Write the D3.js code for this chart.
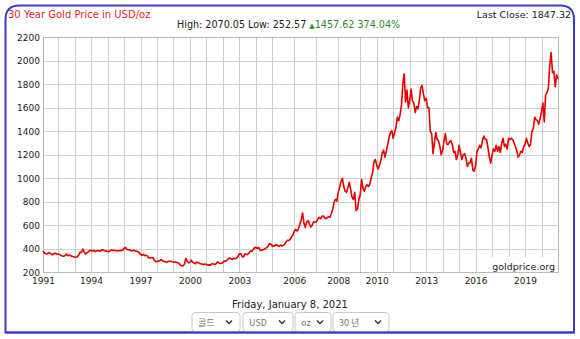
<!DOCTYPE html>
<html><head><meta charset="utf-8">
<script src="https://cdn.jsdelivr.net/npm/d3@7/dist/d3.min.js"></script>
<style>
body{margin:0;background:#fff}
svg{display:block;font-family:"DejaVu Sans",Verdana,sans-serif}
</style>
</head><body>
<svg id="chart" width="580" height="339"></svg>
<script>
// ---------------- data ----------------
const years = d3.range(1991, 2022);
const prices = [
  [380, 364, 358, 356, 368, 365, 356, 349, 359, 362, 355],                      // 1991
  [354, 353, 344, 339, 336, 342, 355, 342, 346, 343, 336, 333],                 // 1992
  [330, 328, 332, 345, 372, 368, 398, 372, 355, 366, 374, 384],                 // 1993
  [388, 380, 386, 376, 384, 386, 383, 380, 394, 388, 384, 380],                 // 1994
  [378, 375, 384, 392, 386, 388, 385, 382, 384, 383, 387, 388],                 // 1995
  [404, 412, 396, 392, 392, 384, 384, 387, 382, 380, 376, 369],                 // 1996
  [354, 345, 352, 342, 346, 340, 322, 325, 324, 326, 304, 290],                 // 1997
  [292, 298, 296, 309, 298, 292, 291, 284, 291, 294, 294, 290],                 // 1998
  [287, 288, 284, 283, 276, 262, 255, 256, 268, 320, 293, 282],                 // 1999
  [284, 304, 285, 280, 273, 287, 282, 276, 272, 270, 265, 272],                 // 2000
  [266, 261, 263, 260, 274, 270, 267, 273, 288, 281, 275, 277],                 // 2001
  [283, 296, 295, 304, 316, 322, 312, 310, 320, 316, 320, 336],                 // 2002
  [358, 360, 335, 330, 358, 352, 352, 364, 382, 378, 392, 410],                 // 2003
  [412, 404, 412, 390, 385, 392, 396, 404, 410, 424, 444, 438],                 // 2004
  [425, 422, 430, 436, 428, 420, 432, 424, 430, 440, 458, 472, 470, 482, 500, 518], // 2005
  [552, 565, 552, 570, 610, 645, 705, 620, 580, 630, 640, 610, 585, 600, 630, 625], // 2006
  [630, 650, 668, 655, 675, 680, 665, 655, 665, 675, 668, 700, 740, 800, 820, 805], // 2007
  [880, 920, 975, 1000, 930, 890, 880, 920, 965, 910, 840, 820, 880, 725, 740, 820], // 2008
  [860, 990, 915, 890, 930, 945, 930, 950, 1005, 1050, 1140, 1160],            // 2009
  [1110, 1080, 1110, 1150, 1215, 1240, 1180, 1230, 1290, 1345, 1390, 1405],     // 2010
  [1340, 1390, 1430, 1520, 1490, 1540, 1620, 1800, 1890, 1650, 1750, 1600],     // 2011
  [1660, 1760, 1660, 1640, 1560, 1610, 1590, 1660, 1770, 1790, 1720, 1660],     // 2012
  [1680, 1600, 1600, 1400, 1380, 1210, 1300, 1390, 1330, 1320, 1270, 1200],     // 2013
  [1240, 1320, 1380, 1290, 1290, 1310, 1320, 1290, 1220, 1230, 1160, 1200],     // 2014
  [1280, 1220, 1160, 1200, 1210, 1175, 1100, 1130, 1130, 1170, 1070, 1060],     // 2015
  [1110, 1230, 1250, 1280, 1260, 1320, 1360, 1330, 1330, 1260, 1180, 1130],     // 2016
  [1200, 1250, 1230, 1280, 1230, 1270, 1220, 1300, 1340, 1270, 1290, 1250],     // 2017
  [1340, 1330, 1340, 1330, 1300, 1270, 1230, 1180, 1200, 1230, 1220, 1270],     // 2018
  [1290, 1340, 1300, 1270, 1290, 1400, 1420, 1520, 1500, 1490, 1460, 1510],     // 2019
  [1570, 1640, 1480, 1710, 1730, 1770, 1960, 2070, 1900, 1910, 1780, 1880],     // 2020
  [1847.32]                                                                      // 2021
];
const yTicks = d3.range(200, 2201, 200);
const labelYears = [1991, 1994, 1997, 2000, 2003, 2006, 2008, 2010, 2013, 2016, 2019];
const titleText = "30 Year Gold Price in USD/oz";
const highText = "High: 2070.05 Low: 252.57 ";
const changeText = "1457.62 374.04%";
const lastCloseText = "Last Close: 1847.32";
const dateText = "Friday, January 8, 2021";
const selectLabels = ["골드", "USD", "oz", "30 년"];
const watermark = "goldprice.org";

// ---------------- layout ----------------
const svg = d3.select("#chart");
const plot = {left: 43, right: 558, top: 37.3, bottom: 272.3};

const series = [];
const yearStart = new Map();
prices.forEach((arr, i) => {
  yearStart.set(years[i], series.length);
  arr.forEach(v => series.push(v));
});

const x = d3.scaleLinear().domain([0, series.length - 1]).range([plot.left, plot.right]);
const y = d3.scaleLinear().domain([200, 2200]).range([plot.bottom, plot.top]);

// frame
const fx0 = 5.5, fx1 = 574, fy0 = 5.5, fy1 = 332.5, r = 14;
svg.append("path")
  .attr("d", `M${fx0},${fy1} L${fx0},${fy0 + r} Q${fx0},${fy0} ${fx0 + r},${fy0} L${fx1 - r},${fy0} Q${fx1},${fy0} ${fx1},${fy0 + r} L${fx1},${fy1} Z`)
  .attr("fill", "#fff").attr("stroke", "#3c3cc8").attr("stroke-width", 2);

// horizontal grid
const gy = svg.append("g").attr("transform", `translate(${plot.left},0)`)
  .call(d3.axisLeft(y).tickValues(yTicks).tickSize(-(plot.right - plot.left)).tickPadding(4).tickFormat(d3.format("d")));
gy.select(".domain").remove();
gy.selectAll(".tick line").attr("stroke", "#cfcfcf").attr("shape-rendering", "crispEdges");
gy.selectAll(".tick text").attr("fill", "#222").attr("font-size", 9).attr("font-family", "DejaVu Sans, Verdana, sans-serif").attr("x", -3);

// vertical grid (every year start)
const gx = svg.append("g").attr("transform", `translate(0,${plot.bottom})`)
  .call(d3.axisBottom(x).tickValues(years.map(yr => yearStart.get(yr))).tickSize(-(plot.bottom - plot.top)).tickFormat(""));
gx.select(".domain").remove();
gx.selectAll(".tick line").attr("stroke", "#cfcfcf").attr("shape-rendering", "crispEdges");

// x labels
const gl = svg.append("g").attr("transform", `translate(0,${plot.bottom})`)
  .call(d3.axisBottom(x).tickValues(labelYears.map(yr => yearStart.get(yr))).tickSize(0).tickPadding(5)
    .tickFormat(i => years.find(yr => yearStart.get(yr) === i)));
gl.select(".domain").remove();
gl.selectAll(".tick text").attr("fill", "#222").attr("font-size", 9).attr("font-family", "DejaVu Sans, Verdana, sans-serif");

// plot border
svg.append("rect").attr("x", plot.left).attr("y", plot.top)
  .attr("width", plot.right - plot.left).attr("height", plot.bottom - plot.top)
  .attr("fill", "none").attr("stroke", "#bbb").attr("shape-rendering", "crispEdges");

// price line
svg.append("path").datum(series)
  .attr("fill", "none").attr("stroke", "#e60000").attr("stroke-width", 1.6).attr("stroke-linejoin", "round")
  .attr("d", d3.line().x((d, i) => x(i)).y(d => y(d)));

// watermark
svg.append("rect").attr("x", 490).attr("y", 257).attr("width", 67).attr("height", 15).attr("fill", "#fff");
svg.append("text").attr("x", 555).attr("y", 269.5).attr("text-anchor", "end")
  .attr("font-size", 9.5).attr("fill", "#222").text(watermark);

// header texts
svg.append("text").attr("x", 8).attr("y", 18).attr("font-size", 10).attr("fill", "#e0282a").text(titleText);
svg.append("text").attr("x", 571).attr("y", 18).attr("text-anchor", "end").attr("font-size", 9.5).attr("fill", "#222").text(lastCloseText);
const hi = svg.append("text").attr("x", 177).attr("y", 28).attr("font-size", 9.6).attr("fill", "#222");
hi.append("tspan").text(highText);
hi.append("tspan").attr("fill", "#2a8a2a").attr("font-size", 7).attr("dy", -0.5).text("▲");
hi.append("tspan").attr("fill", "#2a8a2a").attr("dy", 0.5).text(changeText);

// date
svg.append("text").attr("x", 290).attr("y", 308).attr("text-anchor", "middle").attr("font-size", 10).attr("fill", "#222").text(dateText);

// selects
const selLayout = [[192, 48], [243, 50], [295, 36], [333, 56]];
selectLabels.forEach((lab, i) => {
  const [sx, sw] = selLayout[i];
  const g = svg.append("g").attr("transform", `translate(${sx},312.5)`);
  g.append("rect").attr("width", sw).attr("height", 19).attr("rx", 3).attr("fill", "#fff").attr("stroke", "#c8c8c8");
  g.append("text").attr("x", 6).attr("y", 13).attr("font-size", 9).attr("fill", "#777")
    .attr("font-family", "'Noto Sans CJK KR', 'DejaVu Sans', sans-serif").text(lab);
  g.append("path").attr("d", `M${sw - 14},8 L${sw - 11},11 L${sw - 8},8`).attr("fill", "none").attr("stroke", "#333").attr("stroke-width", 1.4);
});
// redraw bottom blue line over selects
svg.append("line").attr("x1", fx0).attr("x2", fx1).attr("y1", fy1).attr("y2", fy1).attr("stroke", "#3c3cc8").attr("stroke-width", 2);
</script>
</body></html>
